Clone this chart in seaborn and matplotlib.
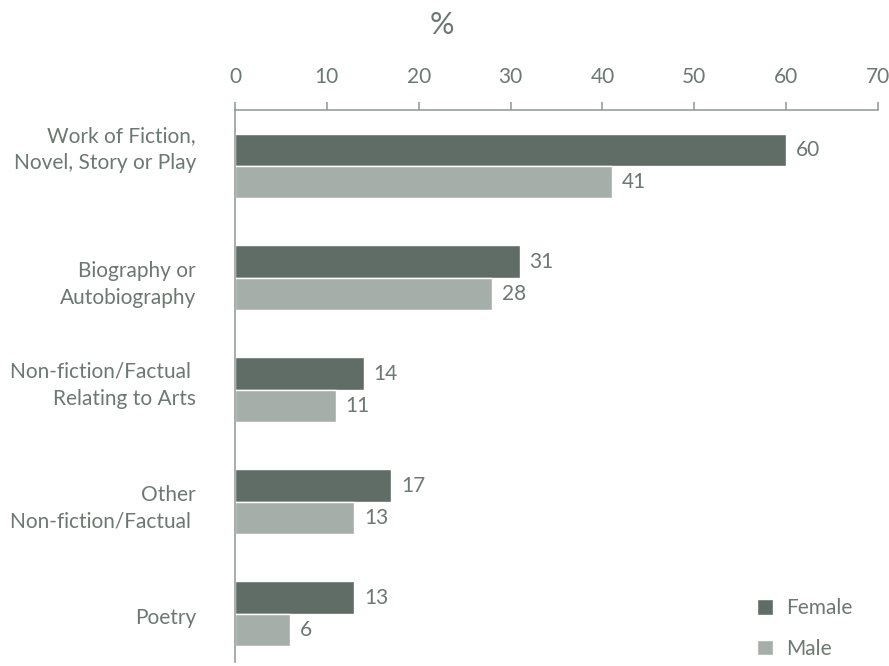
import matplotlib
matplotlib.use("Agg")
import matplotlib.pyplot as plt
from matplotlib.transforms import ScaledTranslation
import pandas as pd
import seaborn as sns

# Reading genres by sex (%)
genres = [
    "Work of Fiction,\nNovel, Story or Play",
    "Biography or\nAutobiography",
    "Non-fiction/Factual \nRelating to Arts",
    "Other\nNon-fiction/Factual ",
    "Poetry",
]
female = [60, 31, 14, 17, 13]
male = [41, 28, 11, 13, 6]
sexes = ["Female", "Male"]
x_ticks = [0, 10, 20, 30, 40, 50, 60, 70]

FEMALE_COLOR = "#5f6d66"
MALE_COLOR = "#a6aea9"
TEXT_COLOR = "#6c7872"
AXIS_COLOR = "#8c9791"
FONT_SIZE = 15

sns.set_theme(style="white")
plt.rcParams["font.family"] = ["Lato", "DejaVu Sans"]

df = pd.DataFrame({
    "genre": genres * 2,
    "pct": female + male,
    "sex": [sexes[0]] * len(genres) + [sexes[1]] * len(genres),
})

fig = plt.figure(figsize=(8.89, 6.66), dpi=100)
ax = fig.add_axes([235 / 889, 4 / 666, 643 / 889, 552 / 666])

sns.barplot(
    data=df, y="genre", x="pct", hue="sex", hue_order=sexes, order=genres,
    orient="h", palette=[FEMALE_COLOR, MALE_COLOR], saturation=1,
    width=0.58, ax=ax,
)

ax.set_xlim(0, 70)
ax.set_ylim(4.43, -0.49)

# spines: only top and left
for side in ["right", "bottom"]:
    ax.spines[side].set_visible(False)
for side in ["top", "left"]:
    ax.spines[side].set_color(AXIS_COLOR)
    ax.spines[side].set_linewidth(1.1)

# x axis along the top
ax.xaxis.set_ticks_position("top")
ax.xaxis.set_label_position("top")
ax.set_xticks(x_ticks)
ax.tick_params(axis="x", direction="out", length=6, width=1.1, color=AXIS_COLOR,
               labelcolor=TEXT_COLOR, labelsize=FONT_SIZE, pad=10.5)
ax.set_xlabel("%", fontsize=22, color=TEXT_COLOR, va="center")
ax.xaxis.set_label_coords(0.3215, 1.154)

# y axis: labels at category centres, tick marks between groups
ax.set_yticks(range(len(genres)))
ax.set_yticklabels(genres, fontsize=FONT_SIZE, color=TEXT_COLOR, linespacing=1.42)
ax.tick_params(axis="y", which="major", length=0, pad=28)
ax.set_yticks([i - 0.5 for i in range(len(genres))], minor=True)
ax.tick_params(axis="y", which="minor", direction="out", length=6, width=1.1,
               color=AXIS_COLOR)
ax.set_ylabel("")

label_shift_px = [-22, 1, -10, 1, 2]
for lab, dy in zip(ax.get_yticklabels(), label_shift_px):
    lab.set_transform(lab.get_transform()
                      + ScaledTranslation(0, -dy / 100, fig.dpi_scale_trans))

# value labels
for cont in ax.containers:
    ax.bar_label(cont, fmt="%g", padding=7, color=TEXT_COLOR, fontsize=FONT_SIZE)

# legend
handles, labels = ax.get_legend_handles_labels()
ax.legend(handles, labels, loc="lower left", bbox_to_anchor=(757 / 889, 7 / 666),
          bbox_transform=fig.transFigure, frameon=False, fontsize=FONT_SIZE,
          labelcolor=TEXT_COLOR, handlelength=0.75, handleheight=0.75,
          handletextpad=0.65, labelspacing=1.0, borderpad=0, borderaxespad=0)

fig.savefig("out.png", dpi=100)
